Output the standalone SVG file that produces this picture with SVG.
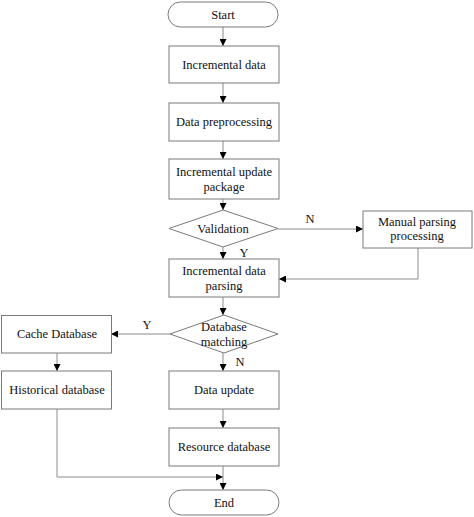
<svg xmlns="http://www.w3.org/2000/svg" width="474" height="517" viewBox="0 0 474 517">
<defs>
<style>
.box{fill:#fff;stroke:#7a7a7a;stroke-width:1}
.t{font-family:"Liberation Serif","Times New Roman",serif;font-size:12.5px;fill:#111;text-anchor:middle;dominant-baseline:central}
.c{fill:none;stroke:#8c8c8c;stroke-width:1}
</style>
<marker id="ah" viewBox="0 0 10 10" refX="10" refY="5" markerWidth="7" markerHeight="7" markerUnits="userSpaceOnUse" orient="auto">
<path d="M0,0 L10,5 L0,10 Z" fill="#000"/>
</marker>
</defs>
<rect width="474" height="517" fill="#fff"/>
<g id="connectors">
<line class="c" x1="223" y1="27" x2="223" y2="46" marker-end="url(#ah)"/>
<line class="c" x1="223" y1="83" x2="223" y2="103" marker-end="url(#ah)"/>
<line class="c" x1="223" y1="141" x2="223" y2="159" marker-end="url(#ah)"/>
<line class="c" x1="223" y1="199" x2="223" y2="210" marker-end="url(#ah)"/>
<line class="c" x1="223" y1="247" x2="223" y2="259" marker-end="url(#ah)"/>
<line class="c" x1="278" y1="229" x2="363" y2="229" marker-end="url(#ah)"/>
<polyline class="c" points="418,248 418,279 279,279" marker-end="url(#ah)"/>
<line class="c" x1="223" y1="297" x2="223" y2="315" marker-end="url(#ah)"/>
<line class="c" x1="170" y1="334" x2="111" y2="334" marker-end="url(#ah)"/>
<line class="c" x1="223" y1="353" x2="223" y2="371" marker-end="url(#ah)"/>
<line class="c" x1="57" y1="353" x2="57" y2="371" marker-end="url(#ah)"/>
<line class="c" x1="223" y1="409" x2="223" y2="428" marker-end="url(#ah)"/>
<line class="c" x1="223" y1="466" x2="223" y2="490" marker-end="url(#ah)"/>
<polyline class="c" points="57,409 57,477 223,477" marker-end="url(#ah)"/>
<text class="t" x="310" y="219">N</text>
<text class="t" x="244" y="253">Y</text>
<text class="t" x="147" y="325">Y</text>
<text class="t" x="240" y="362">N</text>
</g>
<g id="start"><rect class="box" x="168" y="2" width="110" height="25" rx="12.5"/><text class="t" x="223" y="14.5">Start</text></g>
<g id="incremental-data"><rect class="box" x="169" y="46" width="110" height="37"/><text class="t" x="224" y="64.5">Incremental data</text></g>
<g id="data-preprocessing"><rect class="box" x="169" y="103" width="110" height="38"/><text class="t" x="224" y="122">Data preprocessing</text></g>
<g id="incremental-update-package"><rect class="box" x="169" y="159" width="110" height="40"/><text class="t" x="224" y="172">Incremental update</text><text class="t" x="224" y="187">package</text></g>
<g id="validation"><polygon class="box" points="223,210 278,228.5 223,247 169,228.5"/><text class="t" x="223" y="228.5">Validation</text></g>
<g id="manual-parsing"><rect class="box" x="363" y="211" width="109" height="37"/><text class="t" x="417" y="222">Manual parsing</text><text class="t" x="417" y="236">processing</text></g>
<g id="incremental-data-parsing"><rect class="box" x="169" y="259" width="110" height="38"/><text class="t" x="224" y="271">Incremental data</text><text class="t" x="224" y="286">parsing</text></g>
<g id="database-matching"><polygon class="box" points="224,315 278,334 224,353 170,334"/><text class="t" x="224" y="327">Database</text><text class="t" x="224" y="342">matching</text></g>
<g id="cache-database"><rect class="box" x="1.5" y="315.5" width="110" height="37.5"/><text class="t" x="57" y="334">Cache Database</text></g>
<g id="historical-database"><rect class="box" x="1.5" y="371" width="110" height="38"/><text class="t" x="57" y="390">Historical database</text></g>
<g id="data-update"><rect class="box" x="169" y="371" width="110" height="38"/><text class="t" x="224" y="390">Data update</text></g>
<g id="resource-database"><rect class="box" x="169" y="428" width="110" height="38"/><text class="t" x="224" y="447">Resource database</text></g>
<g id="end"><rect class="box" x="169" y="490" width="110" height="25" rx="12.5"/><text class="t" x="224" y="502.5">End</text></g>
</svg>
